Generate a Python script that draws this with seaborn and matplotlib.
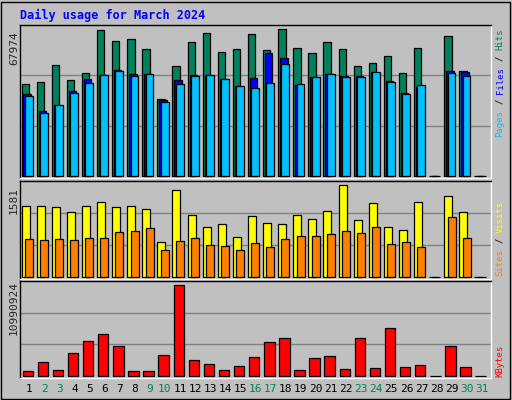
import matplotlib
matplotlib.use("Agg")
import matplotlib.pyplot as plt
import seaborn as sns
import numpy as np

days = list(range(1, 32))
weekend = [2, 3, 9, 10, 16, 17, 23, 24, 30, 31]
hits = [42600, 43520, 51360, 44440, 47670, 67510, 62440, 63360, 58750, 35680, 50900, 61980, 66130, 57360, 58750, 65670, 58290, 67974, 59210, 56900, 61980, 58750, 50900, 52290, 55520, 47670, 59210, 0, 64750, 48600, 0]
files = [37990, 30140, 32910, 39370, 44910, 46750, 49060, 47210, 47210, 35220, 44440, 46750, 46750, 44910, 41680, 45370, 56900, 54590, 42140, 45830, 47210, 46290, 46290, 48140, 43980, 38450, 41220, 0, 48600, 48140, 0]
pages = [37060, 29220, 32910, 38450, 43060, 46750, 48600, 46290, 47210, 34300, 42600, 46290, 46750, 44910, 41680, 40760, 43060, 51830, 42600, 45830, 47210, 45830, 45830, 48140, 43520, 37990, 42140, 0, 47670, 46290, 0]
visits = [1225, 1225, 1208, 1122, 1225, 1294, 1208, 1225, 1174, 602, 1495, 1070, 865, 916, 693, 1054, 933, 916, 1070, 1002, 1140, 1581, 985, 1277, 865, 813, 1294, 0, 1397, 1122, 0]
sites = [653, 636, 653, 636, 670, 670, 773, 790, 842, 464, 619, 670, 550, 533, 464, 584, 516, 653, 704, 704, 739, 790, 756, 859, 567, 601, 516, 0, 1036, 670, 0]
kbytes = [642000, 1725000, 762000, 2768000, 4212000, 5054000, 3610000, 642000, 642000, 2527000, 10990924, 1966000, 1484000, 762000, 1244000, 2286000, 4091000, 4573000, 762000, 2206000, 2447000, 883000, 4573000, 1003000, 5776000, 1123000, 1364000, 0, 3610000, 1123000, 0]

sns.set_style("white")
plt.rcParams['font.family'] = ['DejaVu Sans Mono']
BG = "#c0c0c0"
W, H = 512, 400
fig = plt.figure(figsize=(W/100, H/100), dpi=100, facecolor=BG)

def pax(x0, y0, x1, y1):
    ax = fig.add_axes([x0/W, 1-y1/H, (x1-x0)/W, (y1-y0)/H])
    ax.set_facecolor(BG)
    ax.set_xlim(0.4, 31.6)
    ax.set_xticks([]); ax.set_yticks([])
    for s, c in [("top", "#000000"), ("left", "#000000"), ("bottom", "#ffffff"), ("right", "#ffffff")]:
        ax.spines[s].set_color(c); ax.spines[s].set_linewidth(1)
    return ax

x = np.array(days, dtype=float)
kw = dict(edgecolor="black", linewidth=0.9, align="edge")

ax1 = pax(20, 25, 491, 178)
top1 = 67974 * 1.03
ax1.set_ylim(-top1*0.01, top1)
for f in (1/3, 2/3):
    ax1.axhline(top1*f, color="#808080", lw=1, zorder=0)
ax1.bar(x-0.5+0.0, hits, width=0.49, color="#00805c", **kw)
ax1.bar(x-0.5+0.13, files, width=0.49, color="#0000ff", **kw)
ax1.bar(x-0.5+0.22, pages, width=0.52, color="#00c0ff", **kw)

ax2 = pax(20, 181, 491, 279)
top2 = 1581 / 0.96
ax2.set_ylim(-top2*0.02, top2)
for f in (1/3, 2/3):
    ax2.axhline(top2*f, color="#808080", lw=1, zorder=0)
ax2.bar(x-0.5, visits, width=0.53, color="#ffff00", **kw)
ax2.bar(x-0.5+0.22, sites, width=0.53, color="#ff8000", **kw)

ax3 = pax(20, 281, 491, 378)
top3 = 10990924 / 0.96
ax3.set_ylim(-top3*0.02, top3)
for f in (1/3, 2/3):
    ax3.axhline(top3*f, color="#808080", lw=1, zorder=0)
ax3.bar(x-0.5+0.07, kbytes, width=0.69, color="#ff0000", **kw)

for d in days:
    fig.text((20 + (d-0.4)/31.2*471)/W, 1-389/H, str(d), ha="center", va="center",
             fontsize=8, color="#00805c" if d in weekend else "#000000")

fig.text(20/W, 1-15/H, "Daily usage for March 2024", color="#0000ff", fontsize=8.5,
         fontweight="bold", ha="left", va="center")
fig.text(14/W, 1-48/H, "67974", rotation=90, fontsize=8, ha="center", va="center")
fig.text(14/W, 1-201/H, "1581", rotation=90, fontsize=8, ha="center", va="center")
fig.text(14/W, 1-308/H, "10990924", rotation=90, fontsize=8, ha="center", va="center")

def vstack(y_bottom, parts, fs=6.5):
    step = fs * 0.602 * 100 / 72
    y = y_bottom
    for txt, col in parts:
        fig.text(500/W, 1-y/H, txt, rotation=90, fontsize=fs, color=col,
                 ha="center", va="bottom")
        y -= (len(txt) + 1) * step
vstack(137, [("Pages", "#00c0ff"), ("/", "#000000"), ("Files", "#0000ff"), ("/", "#000000"), ("Hits", "#00805c")])
vstack(276, [("Sites", "#ff8000"), ("/", "#000000"), ("Visits", "#ffff00")])
vstack(377, [("KBytes", "#ff0000")])

fig.patches.append(plt.Rectangle((0.002, 0.002), 0.994, 0.994, transform=fig.transFigure,
                                 fill=False, edgecolor="#000000", lw=1))
fig.savefig("out.png", dpi=100, facecolor=BG)
